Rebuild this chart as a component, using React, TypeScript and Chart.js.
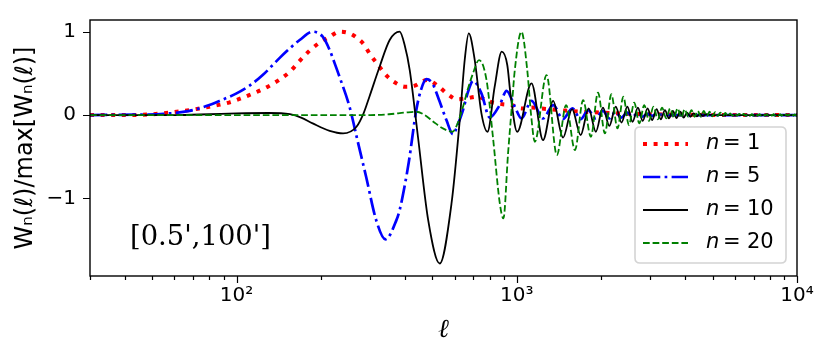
import React, { useEffect, useRef } from 'react';
import { Chart, registerables } from 'chart.js';

Chart.register(...registerables);

const CANVAS_W = 831;
const CANVAS_H = 359;

// [ell, W_n(ell)/max]
const N1_POINTS: [number, number][] = [
  [30, 0], [40, 0], [50, 0.01], [58, 0.03], [68, 0.06], [80, 0.1], [94, 0.15], [111, 0.24], [131, 0.35],
  [155, 0.52], [168, 0.65], [182, 0.77], [198, 0.87], [215, 0.94], [233, 1.0], [253, 0.98], [268, 0.93],
  [286, 0.84], [298, 0.74], [315, 0.63], [346, 0.46], [372, 0.38], [398, 0.34], [430, 0.35], [478, 0.42],
  [523, 0.35], [567, 0.25], [612, 0.19], [660, 0.2], [720, 0.22], [801, 0.16], [891, 0.13], [960, 0.12],
  [1040, 0.08], [1130, 0.09], [1210, 0.08], [1420, 0.06], [1680, 0.04], [2000, 0.03], [2300, 0.02],
  [3000, 0.01], [4000, 0.005], [6000, 0], [10000, 0],
];

const N5_POINTS: [number, number][] = [
  [30, 0], [45, 0.005], [55, 0.015], [68, 0.05], [80, 0.12], [87, 0.17], [100, 0.26], [111, 0.35], [124, 0.48],
  [142, 0.68], [155, 0.8], [168, 0.9], [187, 1.0], [203, 0.94], [215, 0.78], [224, 0.62], [233, 0.46],
  [253, 0.1], [270, -0.3], [290, -0.74], [315, -1.26], [340, -1.49], [372, -1.26], [382, -1.14], [398, -0.85],
  [412, -0.56], [438, 0.06], [455, 0.3], [476, 0.43], [500, 0.38], [523, 0.22], [561, -0.06], [592, -0.23],
  [615, -0.12], [643, 0.06], [670, 0.28], [698, 0.41], [748, 0.26], [801, -0.03], [869, 0.12], [920, 0.29],
  [984, 0.1], [1039, -0.04], [1129, 0.17], [1241, -0.04], [1350, 0.12], [1460, -0.05], [1580, 0.08],
  [1690, -0.05], [1800, 0.06], [1910, -0.04], [2030, 0.05], [2140, -0.04], [2250, 0.04], [2360, -0.03],
  [2480, 0.03], [2590, -0.02], [2700, 0.02], [2810, -0.02], [2930, 0.015], [3040, -0.01], [3160, 0.01],
  [3400, 0], [4000, 0], [10000, 0],
];

const N10_POINTS: [number, number][] = [
  [30, 0], [60, 0], [80, 0.01], [100, 0.02], [130, 0.025], [155, 0.01], [170, -0.03], [187, -0.1],
  [215, -0.19], [240, -0.22], [268, -0.14], [284, 0.02], [298, 0.22], [324, 0.58], [352, 0.9], [382, 1.0],
  [398, 0.84], [415, 0.54], [444, -0.26], [483, -1.26], [531, -1.78], [585, -1.06], [626, -0.06],
  [652, 0.66], [674, 0.98], [708, 0.66], [748, 0.02], [786, -0.2], [834, 0.34], [884, 0.76], [925, 0.6],
  [950, 0.25], [1003, -0.2], [1129, 0.38], [1241, -0.3], [1348, 0.17], [1463, -0.27], [1575, 0.07],
  [1690, -0.24], [1805, 0.08], [1915, -0.2], [2030, 0.09], [2140, -0.13], [2255, 0.1], [2365, -0.09],
  [2480, 0.1], [2590, -0.08], [2705, 0.09], [2815, -0.07], [2930, 0.08], [3040, -0.06], [3155, 0.07],
  [3265, -0.05], [3380, 0.06], [3490, -0.04], [3605, 0.05], [3715, -0.035], [3830, 0.04], [3940, -0.03],
  [4055, 0.03], [4165, -0.02], [4280, 0.02], [4390, -0.015], [4505, 0.015], [4615, -0.01], [4730, 0.01],
  [5000, 0], [10000, 0],
];

const N20_POINTS: [number, number][] = [
  [30, 0], [300, 0], [350, 0.01], [400, 0.03], [438, 0.04], [470, 0.0], [504, -0.08], [545, -0.16],
  [590, -0.2], [615, -0.1], [643, 0.1], [670, 0.32], [698, 0.5], [733, 0.66], [780, 0.42], [822, -0.26],
  [870, -1.06], [896, -1.24], [931, -0.46], [960, 0.1], [984, 0.54], [1039, 1.0], [1090, 0.54], [1125, 0.0],
  [1160, -0.32], [1277, 0.48], [1390, -0.48], [1500, 0.12], [1613, -0.42], [1725, 0.18], [1838, -0.26],
  [1950, 0.27], [2063, -0.22], [2175, 0.25], [2288, -0.16], [2400, 0.22], [2513, -0.12], [2625, 0.15],
  [2738, -0.1], [2850, 0.12], [2963, -0.07], [3075, 0.1], [3188, -0.05], [3300, 0.09], [3413, -0.04],
  [3525, 0.08], [3638, -0.03], [3750, 0.08], [3863, -0.03], [3975, 0.07], [4088, -0.02], [4200, 0.06],
  [4313, -0.02], [4425, 0.05], [4538, -0.02], [4650, 0.05], [4763, -0.015], [4875, 0.04], [4988, -0.015],
  [5100, 0.035], [5213, -0.01], [5325, 0.03], [5438, -0.01], [5550, 0.025], [5663, -0.01], [5775, 0.02],
  [5888, -0.01], [6000, 0.02], [6113, -0.01], [6225, 0.015], [6338, -0.01], [6450, 0.015], [6563, -0.01],
  [6675, 0.012], [6788, -0.01], [6900, 0.012], [7013, -0.01], [7125, 0.012], [7238, -0.008], [7350, 0.012],
  [7463, -0.008], [7575, 0.01], [7688, -0.008], [7800, 0.01], [7913, -0.008], [8025, 0.01], [8138, -0.008],
  [8250, 0.01], [8363, -0.008], [8475, 0.01], [8588, -0.008], [8700, 0.01], [8813, -0.008], [8925, 0.008],
  [9038, -0.008], [9150, 0.008], [9263, -0.008], [9375, 0.008], [9488, -0.008], [9600, 0.008],
  [9713, -0.008], [9825, 0.008], [9938, -0.008], [10000, 0],
];

const SERIES_N = ['1', '5', '10', '20'];
const SERIES_POINTS = [N1_POINTS, N5_POINTS, N10_POINTS, N20_POINTS];
const SERIES_COLORS = ['#ff0000', '#0000ff', '#000000', '#008000'];

const X_MIN = 30;
const X_MAX = 10000;
const Y_MIN = -1.93;
const Y_MAX = 1.14;
const X_MAJOR = [100, 1000, 10000];
const X_MAJOR_LABELS = ['10²', '10³', '10⁴'];
const Y_MAJOR = [-1, 0, 1];
const Y_MAJOR_LABELS = ['−1', '0', '1'];
const X_TITLE = 'ℓ';
const Y_TITLE = 'Wₙ(ℓ)/max[Wₙ(ℓ)]';
const ANNOTATION = "[0.5',100']";

const LINE_STYLES = [
  { width: 4, dash: [4, 6.6] },
  { width: 2.7, dash: [17.3, 4.3, 2.7, 4.3] },
  { width: 1.8, dash: [] as number[] },
  { width: 1.8, dash: [6.7, 2.9] },
];

const TICK_FONT = { family: '"DejaVu Sans", sans-serif', size: 20 };

const framePlugin = {
  id: 'frameTicks',
  afterDatasetsDraw(chart: any) {
    const { ctx, chartArea: a, scales } = chart;
    ctx.save();
    ctx.strokeStyle = '#000';
    ctx.lineWidth = 1.2;
    ctx.setLineDash([]);
    ctx.beginPath();
    for (let d = 10; d <= 10000; d *= 10) {
      for (let m = 1; m <= 9; m++) {
        const v = m * d;
        if (v < X_MIN || v > X_MAX) continue;
        const px = Math.round(scales.x.getPixelForValue(v)) + 0.5;
        const len = m === 1 ? 7 : 4;
        ctx.moveTo(px, a.bottom);
        ctx.lineTo(px, a.bottom + len);
      }
    }
    for (const v of Y_MAJOR) {
      const py = Math.round(scales.y.getPixelForValue(v)) + 0.5;
      ctx.moveTo(a.left - 7, py);
      ctx.lineTo(a.left, py);
    }
    ctx.stroke();
    ctx.lineWidth = 1.4;
    ctx.strokeRect(a.left, a.top, a.right - a.left, a.bottom - a.top);
    ctx.restore();
  },
};

const textPlugin = {
  id: 'annotAndLegend',
  afterDraw(chart: any) {
    const { ctx, chartArea: a } = chart;
    ctx.save();
    ctx.fillStyle = '#000';
    ctx.textBaseline = 'middle';
    ctx.textAlign = 'left';
    // DejaVu Serif, sized so that the label is about 141px wide as in the reference
    ctx.font = '27px "DejaVu Serif", serif';
    const w0 = ctx.measureText(ANNOTATION).width || 141;
    const size = Math.max(20, Math.min(30, (27 * 141) / w0));
    ctx.font = `${size.toFixed(1)}px "DejaVu Serif", serif`;
    ctx.fillText(ANNOTATION, a.left + 40, a.bottom - 38);

    const bw = 151;
    const bh = 136;
    const bx = a.right - 11 - bw;
    const by = a.bottom - 13 - bh;
    const r = 5;
    ctx.beginPath();
    ctx.moveTo(bx + r, by);
    ctx.lineTo(bx + bw - r, by);
    ctx.quadraticCurveTo(bx + bw, by, bx + bw, by + r);
    ctx.lineTo(bx + bw, by + bh - r);
    ctx.quadraticCurveTo(bx + bw, by + bh, bx + bw - r, by + bh);
    ctx.lineTo(bx + r, by + bh);
    ctx.quadraticCurveTo(bx, by + bh, bx, by + bh - r);
    ctx.lineTo(bx, by + r);
    ctx.quadraticCurveTo(bx, by, bx + r, by);
    ctx.closePath();
    ctx.fillStyle = 'rgba(255,255,255,0.85)';
    ctx.fill();
    ctx.strokeStyle = '#d4d4d4';
    ctx.lineWidth = 1.6;
    ctx.stroke();

    chart.data.datasets.forEach((ds: any, i: number) => {
      const y = by + 17 + i * 33;
      ctx.beginPath();
      ctx.setLineDash(ds.borderDash || []);
      ctx.lineWidth = ds.borderWidth;
      ctx.strokeStyle = ds.borderColor;
      ctx.lineCap = 'butt';
      ctx.moveTo(bx + 8, y);
      ctx.lineTo(bx + 53, y);
      ctx.stroke();
      ctx.setLineDash([]);
      ctx.fillStyle = '#000';
      ctx.textBaseline = 'middle';
      ctx.font = 'italic 21px "DejaVu Sans", sans-serif';
      ctx.fillText('n', bx + 71, y);
      ctx.font = '21px "DejaVu Sans", sans-serif';
      ctx.fillText('=', bx + 88, y);
      ctx.fillText(SERIES_N[i], bx + 112, y);
    });
    ctx.restore();
  },
};

export default function App() {
  const ref = useRef<HTMLCanvasElement | null>(null);

  useEffect(() => {
    if (!ref.current) return;
    const datasets = SERIES_POINTS.map((pts, i) => ({
      label: `n = ${SERIES_N[i]}`,
      data: pts.map(([x, y]) => ({ x, y })),
      borderColor: SERIES_COLORS[i],
      backgroundColor: SERIES_COLORS[i],
      borderWidth: LINE_STYLES[i].width,
      borderDash: LINE_STYLES[i].dash,
      borderCapStyle: 'butt',
      pointRadius: 0,
      fill: false,
      cubicInterpolationMode: 'monotone',
      order: 4 - i,
    }));

    const chart = new Chart(ref.current, {
      type: 'line',
      data: { datasets } as any,
      options: {
        responsive: false,
        animation: false,
        devicePixelRatio: 1,
        events: [],
        layout: { padding: { left: 0, top: 20, right: 34, bottom: 0 } },
        plugins: { legend: { display: false }, tooltip: { enabled: false } },
        scales: {
          x: {
            type: 'logarithmic',
            min: X_MIN,
            max: X_MAX,
            afterBuildTicks: (s: any) => {
              s.ticks = X_MAJOR.map((v) => ({ value: v }));
            },
            afterFit: (s: any) => {
              s.height = 83;
              s.paddingLeft = 0;
              s.paddingRight = 0;
              s.paddingTop = 0;
              s.paddingBottom = 0;
            },
            ticks: {
              autoSkip: false,
              maxRotation: 0,
              padding: 8,
              color: '#000',
              font: TICK_FONT,
              callback: (v: any) => {
                const idx = X_MAJOR.indexOf(Number(v));
                return idx >= 0 ? X_MAJOR_LABELS[idx] : '';
              },
            },
            grid: { display: false, drawTicks: false },
            border: { display: false },
            title: {
              display: true,
              text: X_TITLE,
              color: '#000',
              font: { family: '"DejaVu Serif", serif', style: 'italic', size: 26 },
              padding: { top: 0, bottom: 13 },
            },
          },
          y: {
            type: 'linear',
            min: Y_MIN,
            max: Y_MAX,
            afterBuildTicks: (s: any) => {
              s.ticks = Y_MAJOR.map((v) => ({ value: v }));
            },
            afterFit: (s: any) => {
              s.width = 90;
              s.paddingLeft = 0;
              s.paddingRight = 0;
              s.paddingTop = 0;
              s.paddingBottom = 0;
            },
            ticks: {
              padding: 14,
              color: '#000',
              font: TICK_FONT,
              callback: (v: any) => {
                const idx = Y_MAJOR.indexOf(Number(v));
                return idx >= 0 ? Y_MAJOR_LABELS[idx] : '';
              },
            },
            grid: { display: false, drawTicks: false },
            border: { display: false },
            title: {
              display: true,
              text: Y_TITLE,
              color: '#000',
              font: { family: '"DejaVu Sans", sans-serif', size: 24 },
              padding: { top: 11, bottom: 0 },
            },
          },
        },
      },
      plugins: [framePlugin, textPlugin],
    } as any);
    return () => chart.destroy();
  }, []);

  return (
    <div style={{ position: 'absolute', left: 0, top: 0, width: CANVAS_W, height: CANVAS_H, background: '#fff' }}>
      <canvas ref={ref} width={CANVAS_W} height={CANVAS_H} style={{ display: 'block', width: CANVAS_W, height: CANVAS_H }} />
    </div>
  );
}
